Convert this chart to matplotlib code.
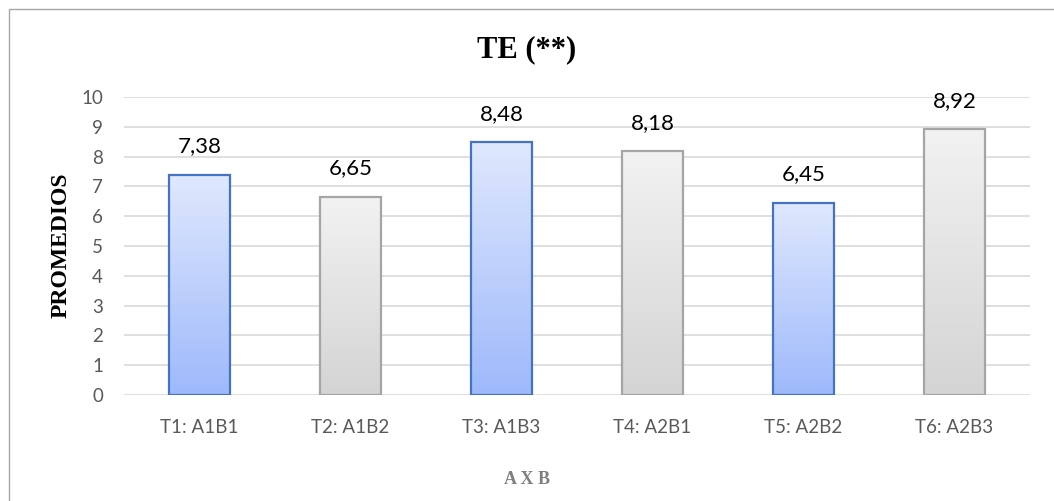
import numpy as np
import matplotlib as mpl
mpl.use('Agg')
import matplotlib.pyplot as plt
from matplotlib.patches import Rectangle

tratamientos = ['T1: A1B1', 'T2: A1B2', 'T3: A1B3', 'T4: A2B1', 'T5: A2B2', 'T6: A2B3']
promedios = [7.38, 6.65, 8.48, 8.18, 6.45, 8.92]
etiquetas = ['7,38', '6,65', '8,48', '8,18', '6,45', '8,92']
es_azul = [True, False, True, False, True, False]

plt.rcParams['font.family'] = ['Lato', 'DejaVu Sans']

fig = plt.figure(figsize=(10.54, 5.01), dpi=100)
ax = fig.add_axes([0.1176, 0.2116, 0.8596, 0.5948])

# marco exterior del grafico
fig.patches.append(Rectangle((9 / 1054, -0.1), 1.2, 1 - 9 / 501 + 0.1,
                             transform=fig.transFigure, fill=False,
                             edgecolor='#a6a6a6', linewidth=1.0))

x = np.arange(len(tratamientos))
ancho = 0.40
grad = np.linspace(0, 1, 256).reshape(-1, 1)
cmap_azul = mpl.colors.LinearSegmentedColormap.from_list('az', ['#9eb9fb', '#dfe8fd'])
cmap_gris = mpl.colors.LinearSegmentedColormap.from_list('gr', ['#d4d4d4', '#f2f2f2'])

for xi, val, txt, azul in zip(x, promedios, etiquetas, es_azul):
    borde = '#4472c4' if azul else '#a5a5a5'
    cm = cmap_azul if azul else cmap_gris
    # sombra suave
    ax.add_patch(Rectangle((xi - ancho / 2 + 0.012, -0.06), ancho, val,
                           facecolor='#000000', alpha=0.08, edgecolor='none', zorder=2))
    ax.imshow(grad, cmap=cm, aspect='auto', origin='lower',
              extent=(xi - ancho / 2, xi + ancho / 2, 0, val), zorder=3)
    ax.add_patch(Rectangle((xi - ancho / 2, 0), ancho, val, facecolor='none',
                           edgecolor=borde, linewidth=1.6, zorder=4))
    ax.text(xi, val + 0.62, txt, ha='center', va='bottom',
            fontsize=16, color='#000000', zorder=5)

ax.set_xlim(-0.5, len(tratamientos) - 0.5)
ax.set_ylim(0, 10)
ax.set_yticks(range(0, 11))
ax.set_xticks(x)
ax.set_xticklabels(tratamientos)
ax.tick_params(axis='both', length=0, labelsize=13.5, colors='#595959')
ax.tick_params(axis='y', pad=15)
ax.tick_params(axis='x', pad=17)
ax.yaxis.grid(True, color='#d9d9d9', linewidth=1.2, zorder=0)
ax.set_axisbelow(True)
for s in ax.spines.values():
    s.set_visible(False)

fig.text(0.5, 0.9, 'TE (**)', ha='center', va='center', fontsize=22,
         fontweight='bold', family='Liberation Serif')
fig.text(0.058, 0.51, 'PROMEDIOS', ha='center', va='center', rotation=90,
         fontsize=17, fontweight='bold', family='Liberation Serif')
fig.text(0.5, 0.042, 'A X B', ha='center', va='center', fontsize=13,
         fontweight='bold', family='Liberation Serif', color='#7f7f7f')

fig.savefig('out.png', dpi=100)
